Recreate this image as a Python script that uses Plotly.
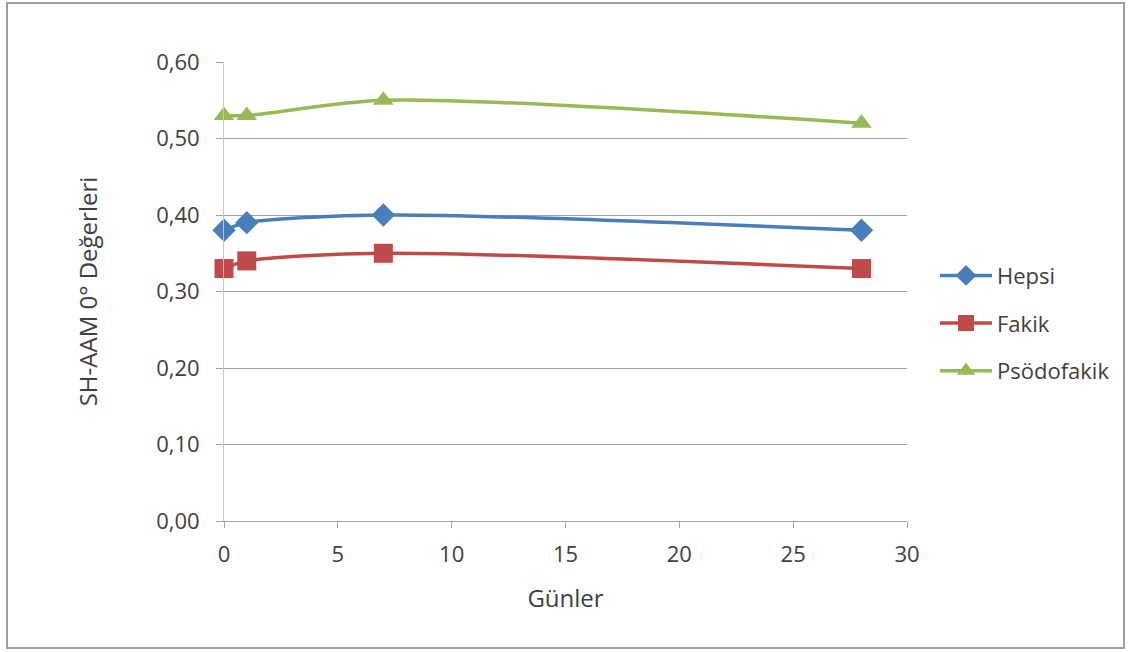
import plotly.graph_objects as go

days = [0, 1, 7, 28]
hepsi = [0.38, 0.39, 0.40, 0.38]
fakik = [0.33, 0.34, 0.35, 0.33]
psodofakik = [0.53, 0.53, 0.55, 0.52]

series = [
    ("Hepsi", hepsi, "#4A7EBB", "diamond", 18),
    ("Fakik", fakik, "#BE4B48", "square", 19),
    ("Psödofakik", psodofakik, "#98B954", "triangle-up", 18),
]

fig = go.Figure()
for name, vals, color, sym, size in series:
    fig.add_trace(go.Scatter(
        x=days, y=vals, name=name, mode="lines+markers",
        line=dict(color=color, width=3.5, shape="spline", smoothing=0.8),
        marker=dict(symbol=sym, size=size, color=color),
        legendgroup=name, cliponaxis=False,
    ))

font_family = "Open Sans, Liberation Sans, sans-serif"
txt = "#404040"
fig.update_layout(
    width=1133, height=652,
    margin=dict(l=224, r=226, t=62, b=131),
    paper_bgcolor="white", plot_bgcolor="white",
    separators=",.",
    font=dict(family=font_family, size=22, color=txt),
    showlegend=True,
    legend=dict(x=1.041, y=0.431, xanchor="left", yanchor="middle",
                traceorder="grouped", tracegroupgap=16, itemwidth=52,
                font=dict(size=22, color=txt),
                bgcolor="rgba(0,0,0,0)"),
    xaxis=dict(range=[0, 30], tick0=0, dtick=5, showgrid=False,
               showline=True, linecolor="#A6A6A6", linewidth=1,
               ticks="outside", ticklen=6, tickcolor="#A6A6A6",
               ticklabelstandoff=8,
               tickfont=dict(size=22, color=txt),
               zeroline=False,
               title=dict(text="Günler", font=dict(size=24, color=txt), standoff=22)),
    yaxis=dict(range=[0, 0.6], tick0=0, dtick=0.1, tickformat=".2f",
               showgrid=True, gridcolor="#A0A0A0", gridwidth=1,
               showline=True, linecolor="#C8C8C8", linewidth=1,
               ticks="outside", ticklen=7, tickcolor="#A0A0A0",
               ticklabelstandoff=12,
               tickfont=dict(size=22, color=txt),
               zeroline=False,
               title=dict(text="SH-AAM 0° Değerleri", font=dict(size=24, color=txt), standoff=51)),
)

fig.add_shape(type="rect", xref="paper", yref="paper",
              x0=-0.3177, x1=1.3177, y0=-0.2767, y1=1.1285,
              line=dict(color="#A0A0A0", width=2), fillcolor="rgba(0,0,0,0)",
              layer="below")

fig.write_html("out.html", config={"displayModeBar": False},
               post_script="document.body.style.margin='0';")
